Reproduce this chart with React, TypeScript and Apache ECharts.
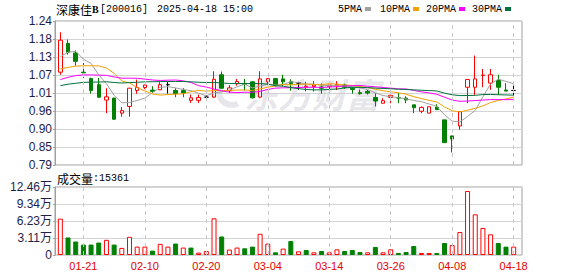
import React, { useEffect, useRef } from 'react';
import * as echarts from 'echarts';

// ---- data ----
const dates = ['01-16','01-17','01-20','01-21','01-22','01-23','01-24','01-27','02-05','02-06','02-07','02-10','02-11','02-12','02-13','02-14','02-17','02-18','02-19','02-20','02-21','02-24','02-25','02-26','02-27','02-28','03-03','03-04','03-05','03-06','03-07','03-10','03-11','03-12','03-13','03-14','03-17','03-18','03-19','03-20','03-21','03-24','03-25','03-26','03-27','03-28','03-31','04-01','04-02','04-03','04-07','04-08','04-09','04-10','04-11','04-14','04-15','04-16','04-17','04-18'];

const opens = [1.080,1.170,1.140,1.080,1.060,1.041,0.993,0.999,0.952,0.973,1.023,1.032,1.024,1.025,1.041,1.023,1.023,0.992,0.992,1.002,1.002,1.072,1.022,1.044,1.045,1.050,1.002,1.050,1.060,1.059,1.050,1.046,1.033,1.035,1.034,1.036,1.038,1.040,1.030,1.016,1.020,1.001,0.983,1.001,1.001,0.999,0.978,0.958,0.952,0.971,0.931,0.881,0.912,1.033,1.033,1.070,1.046,1.054,1.024,1.023];
const closes = [1.180,1.142,1.114,1.078,1.023,1.002,1.003,0.933,0.960,1.030,1.032,1.040,1.020,1.041,1.041,1.013,1.015,1.000,1.001,1.002,1.058,1.030,1.031,1.051,1.042,1.000,1.059,1.060,1.038,1.050,1.044,1.046,1.036,1.040,1.030,1.040,1.042,1.033,1.026,1.013,1.015,0.990,0.991,1.008,0.999,0.993,0.969,0.970,0.972,0.963,0.860,0.871,0.957,1.057,1.059,1.071,1.072,1.033,1.021,1.023];
const lows = [1.072,1.135,1.100,1.062,1.013,1.000,0.952,0.932,0.941,0.941,1.013,1.027,1.015,1.024,1.013,1.002,1.002,0.984,0.984,0.990,1.000,1.029,1.015,1.038,1.023,0.998,0.999,1.041,1.036,1.036,1.022,1.025,1.020,1.020,1.013,1.025,1.024,1.028,1.013,1.010,1.010,0.973,0.983,0.983,0.983,0.983,0.952,0.952,0.952,0.962,0.860,0.829,0.900,0.983,1.009,1.033,1.025,1.009,1.021,1.008];
const highs = [1.205,1.182,1.148,1.109,1.063,1.062,1.030,1.000,0.971,1.031,1.057,1.041,1.036,1.049,1.049,1.030,1.030,1.010,1.010,1.008,1.083,1.082,1.040,1.059,1.059,1.052,1.083,1.062,1.062,1.072,1.058,1.050,1.050,1.052,1.045,1.052,1.052,1.044,1.034,1.026,1.025,1.014,0.999,1.008,1.015,1.005,0.978,0.973,0.972,0.980,0.931,0.881,0.958,1.058,1.132,1.090,1.090,1.072,1.046,1.038];

// closes before the visible window, estimated from where the moving averages start
const historyCloses = [1.01,1.02,1.00,0.99,1.00,0.98,1.00,1.01,0.99,1.00,1.00,1.01,1.03,1.03,1.01,1.02,1.03,1.04,1.03,1.04,1.092,1.074,1.068,1.023,1.003,1.07,1.10,1.20,1.09];

// volume in 手
const volumes = [66600,32100,24700,19100,19100,22800,27800,19100,13000,33300,15400,15400,8000,20400,15400,21000,13600,13600,4300,7400,67200,33900,9900,13600,12300,15400,38900,21000,4900,11700,25600,6700,9200,4900,7300,4900,10400,7300,9200,5500,4900,14700,4900,10400,3700,5500,16500,3700,3700,3700,22000,18300,42100,117300,74500,49500,37900,22000,15300,15361];

const priceTickLabels = ['0.79','0.85','0.90','0.96','1.01','1.07','1.13','1.18','1.24'];
const volTickLabels = ['0','3.11万','6.23万','9.34万','12.46万'];
const xLabelDates = ['01-21','02-10','02-20','03-04','03-14','03-26','04-08','04-18'];
const priceMin = 0.79;
const priceMax = 1.24;
const volMax = 124580;
const maPeriods = [5, 10, 20, 30];
const maNames = ['5PMA', '10PMA', '20PMA', '30PMA'];
const maColors = ['#a0a0a0', '#f0a000', '#ff00ff', '#00703c'];

const UP = '#ff0000';
const DOWN = '#008000';
const LABEL_FONT = "'Liberation Sans', 'Noto Sans CJK SC', sans-serif";
const MONO = "'Liberation Mono', 'DejaVu Sans Mono', monospace";
const CJK = "'Noto Sans CJK SC', sans-serif";

function movingAverage(n: number): number[] {
  const all = historyCloses.concat(closes);
  const h = historyCloses.length;
  return closes.map((_, i) => {
    let s = 0;
    for (let k = h + i - n + 1; k <= h + i; k++) s += all[k];
    return +(s / n).toFixed(4);
  });
}

function buildOption(): any {
  const candleData = dates.map((_, i) => [opens[i], closes[i], lows[i], highs[i]]);
  const volData = volumes.map((v, i) => {
    const up = i === 0 ? closes[i] >= opens[i] : closes[i] >= closes[i - 1];
    return {
      value: v,
      itemStyle: up
        ? { color: '#ffffff', borderColor: UP, borderWidth: 1 }
        : { color: DOWN, borderColor: DOWN, borderWidth: 1 },
    };
  });
  const labelIdx = xLabelDates.map((d) => dates.indexOf(d));
  const vLines = {
    symbol: ['none', 'none'],
    silent: true,
    label: { show: false },
    emphasis: { disabled: true },
    lineStyle: { color: '#c8c8c8', type: [4, 4], width: 1 },
    data: xLabelDates.map((d) => ({ xAxis: d })),
  };

  const legendX = [338, 380, 426, 472];
  const legendGraphics: any[] = [];
  maNames.forEach((name, k) => {
    legendGraphics.push({
      type: 'text', x: legendX[k], y: 9,
      style: { text: name, font: `10px ${MONO}`, fill: '#000', verticalAlign: 'middle' },
    });
    legendGraphics.push({
      type: 'rect', shape: { x: legendX[k] + name.length * 6 + 3, y: 7, width: 6, height: 4 },
      style: { fill: maColors[k] },
    });
  });

  return {
    animation: false,
    backgroundColor: '#ffffff',
    grid: [
      { left: 55, top: 21, width: 467, height: 144, show: true, borderColor: '#a0a0a0', borderWidth: 1, backgroundColor: 'transparent' },
      { left: 56.5, top: 21, width: 461, height: 144 },
      { left: 55, top: 187, width: 467, height: 68, show: true, borderColor: '#a0a0a0', borderWidth: 1, backgroundColor: 'transparent' },
      { left: 56.5, top: 187, width: 461, height: 68 },
    ],
    xAxis: [
      { type: 'value', gridIndex: 0, min: 0, max: 1, show: false },
      { type: 'category', gridIndex: 1, data: dates, boundaryGap: true, show: false },
      { type: 'value', gridIndex: 2, min: 0, max: 1, show: false },
      {
        type: 'category', gridIndex: 3, data: dates, boundaryGap: true,
        axisLine: { show: false }, axisTick: { show: false }, splitLine: { show: false },
        axisLabel: {
          interval: (idx: number) => labelIdx.indexOf(idx) >= 0,
          color: '#e60000', fontSize: 11, fontFamily: LABEL_FONT, margin: 5,
        },
      },
    ],
    yAxis: [
      {
        type: 'value', gridIndex: 0, min: 0, max: 8, interval: 1,
        axisLine: { show: true, lineStyle: { color: '#a0a0a0' } },
        axisTick: { show: true, length: 2, lineStyle: { color: '#a0a0a0' } },
        axisLabel: { formatter: (v: number) => priceTickLabels[v] ?? '', color: '#1e1e4a', fontSize: 12, fontFamily: LABEL_FONT, margin: 3 },
        splitLine: { show: true, lineStyle: { color: '#d4d4d4', width: 1 } },
      },
      { type: 'value', gridIndex: 1, min: priceMin, max: priceMax, show: false, splitLine: { show: false } },
      {
        type: 'value', gridIndex: 2, min: 0, max: 4, interval: 1,
        axisLine: { show: true, lineStyle: { color: '#a0a0a0' } },
        axisTick: { show: true, length: 2, lineStyle: { color: '#a0a0a0' } },
        axisLabel: { formatter: (v: number) => volTickLabels[v] ?? '', color: '#1e1e4a', fontSize: 12, fontFamily: LABEL_FONT, margin: 3 },
        splitLine: { show: true, lineStyle: { color: '#d4d4d4', width: 1 } },
      },
      { type: 'value', gridIndex: 3, min: 0, max: volMax, show: false, splitLine: { show: false } },
    ],
    graphic: [
      { type: 'text', x: 56, y: 9, style: { text: '深康佳', font: `12px ${CJK}`, fill: '#000', verticalAlign: 'middle' } },
      { type: 'text', x: 92, y: 9, style: { text: 'B', font: "bold 10px 'Liberation Serif', serif", fill: '#000', verticalAlign: 'middle' } },
      { type: 'text', x: 100, y: 9, style: { text: '[200016]', font: `10px ${MONO}`, fill: '#000', verticalAlign: 'middle' } },
      { type: 'text', x: 157, y: 9, style: { text: '2025-04-18 15:00', font: `10px ${MONO}`, fill: '#000', verticalAlign: 'middle' } },
      ...legendGraphics,
      { type: 'text', x: 57, y: 178, style: { text: '成交量', font: `12px ${CJK}`, fill: '#000', verticalAlign: 'middle' } },
      { type: 'text', x: 93, y: 178, style: { text: ':15361', font: `10px ${MONO}`, fill: '#000', verticalAlign: 'middle' } },
      {
        type: 'arc', z: 1, shape: { cx: 232, cy: 92, r: 13, startAngle: Math.PI * 0.35, endAngle: Math.PI * 1.25 },
        style: { stroke: 'rgba(200,200,210,0.45)', lineWidth: 6, fill: 'none' },
      },
      {
        type: 'text', x: 244, y: 93, z: 1,
        style: { text: '东方财富', font: `italic bold 34px ${CJK}`, fill: 'rgba(200,200,210,0.45)', verticalAlign: 'middle' },
      },
    ],
    series: [
      {
        type: 'candlestick', xAxisIndex: 1, yAxisIndex: 1, data: candleData, barWidth: 4, z: 3,
        itemStyle: {
          color: '#ffffff', color0: DOWN, borderColor: UP, borderColor0: DOWN,
          borderColorDoji: '#000000', borderWidth: 1,
        },
        markLine: vLines,
      },
      ...maPeriods.map((n, k) => ({
        type: 'line', name: maNames[k], xAxisIndex: 1, yAxisIndex: 1, data: movingAverage(n),
        showSymbol: false, symbol: 'none', smooth: false, z: 4, silent: true,
        lineStyle: { color: maColors[k], width: 1 },
      })),
      {
        type: 'bar', xAxisIndex: 3, yAxisIndex: 3, data: volData, barWidth: 5, z: 3,
        markLine: vLines,
      },
    ],
  };
}

export default function App() {
  const ref = useRef<HTMLDivElement>(null);
  useEffect(() => {
    if (!ref.current) return;
    const chart = echarts.init(ref.current, null, { renderer: 'svg' });
    chart.setOption(buildOption());
    return () => chart.dispose();
  }, []);
  return <div ref={ref} style={{ position: 'fixed', left: 0, top: 0, width: 578, height: 276 }} />;
}
